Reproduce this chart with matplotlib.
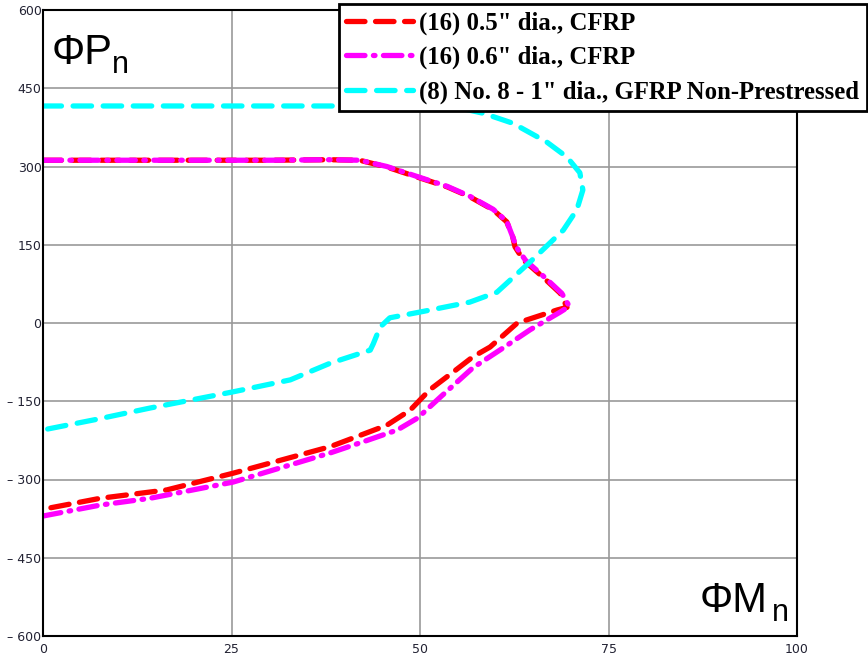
import matplotlib
matplotlib.use("Agg")
import matplotlib.pyplot as plt

# interaction diagram: phi*Mn (x) vs phi*Pn (y)
m_05 = [0, 10, 20, 30, 38, 42, 45.6, 50, 53.6, 56.6, 59.7, 61.5, 62.3, 62.6, 63.7, 66.3, 68.6, 69.5,
        68.2, 62.9, 59.3, 57, 54.4, 51.3, 48.7, 45.6, 38.1, 25.2, 16.4, 7.6, 0]
p_05 = [312, 312, 312, 312, 313, 312, 299, 278, 261, 242, 217, 194, 165, 146, 121, 88, 57, 30,
        25, 0, -46, -65, -94, -128, -167, -196, -237, -288, -320, -336, -357]

m_06 = [0, 10, 20, 30, 38, 42, 45.6, 50, 53.6, 56.6, 59.7, 61.5, 62.3, 62.8, 64, 66.5, 68.8, 69.8,
        68.6, 64.6, 61, 57, 52.7, 49.7, 47, 42.4, 38.1, 25.2, 14.2, 7.6, 0]
p_06 = [312, 312, 312, 312, 313, 312, 300, 279, 262, 243, 218, 195, 165, 145, 120, 88, 57, 32,
        21, -13, -48, -86, -142, -182, -205, -228, -249, -305, -336, -349, -370]

m_gf = [0, 25, 50, 55, 58.4, 62.3, 66.8, 69.5, 71.2, 71.6, 70.8, 69, 67.2, 64.6, 60.2, 56.6,
        50, 46, 44.7, 43.8, 43.4, 38.1, 32.8, 25.2, 14.2, 7, 0]
p_gf = [416, 416, 416, 413, 402, 383, 347, 318, 288, 255, 217, 178, 153, 117, 59, 40,
        21, 10, -8, -40, -52, -77, -109, -132, -163, -185, -205]

labels = ['(16) 0.5" dia., CFRP', '(16) 0.6" dia., CFRP', '(8) No. 8 - 1" dia., GFRP Non-Prestressed']
xticks = [0, 25, 50, 75, 100]
yticks = [-600, -450, -300, -150, 0, 150, 300, 450, 600]

fig = plt.figure(figsize=(8.68, 6.59), dpi=100)
ax = fig.add_axes([43 / 868, 1 - 636 / 659, 754 / 868, 626 / 659])

l1, = ax.plot(m_05, p_05, color="red", lw=3.8, dashes=(3.5, 2.0), dash_capstyle="round")
l2, = ax.plot(m_06, p_06, color="magenta", lw=3.8, dashes=(3.5, 1.6, 0.3, 1.6), dash_capstyle="round")
l3, = ax.plot(m_gf, p_gf, color="cyan", lw=3.8, dashes=(3.5, 2.2), dash_capstyle="round")

ax.set_xlim(0, 100)
ax.set_ylim(-600, 600)
ax.set_xticks(xticks)
ax.set_yticks(yticks)
ax.set_xticklabels([str(v) for v in xticks])
ax.set_yticklabels([("\u2013 " + str(-v)) if v < 0 else str(v) for v in yticks])
ax.tick_params(length=0, labelsize=9, labelcolor="#222233")
ax.tick_params(axis="x", pad=5)
ax.tick_params(axis="y", pad=1)
ax.grid(True, color="#999999", lw=1.2)
ax.set_axisbelow(True)
for s in ax.spines.values():
    s.set_linewidth(1.5)
    s.set_color("black")

ax.text(0.012, 0.914, "\u03a6P", transform=ax.transAxes, fontsize=30, family="Liberation Sans",
        va="baseline", ha="left")
ax.text(0.0915, 0.899, "n", transform=ax.transAxes, fontsize=22, family="Liberation Sans",
        va="baseline", ha="left")
ax.text(0.871, 0.038, "\u03a6M", transform=ax.transAxes, fontsize=30, family="Liberation Sans",
        va="baseline", ha="left")
ax.text(0.967, 0.024, "n", transform=ax.transAxes, fontsize=22, family="Liberation Sans",
        va="baseline", ha="left")

leg = fig.legend([l1, l2, l3], labels, loc="upper left", bbox_to_anchor=(339 / 868, 1 - 4 / 659),
                 borderaxespad=0, fancybox=False, framealpha=1, edgecolor="black",
                 prop={"family": "Liberation Serif", "weight": "bold", "size": 17.8},
                 handlelength=2.7, handletextpad=0.25, labelspacing=0.45, borderpad=0.3)
leg.get_frame().set_linewidth(2)

fig.savefig("out.png", dpi=100)
